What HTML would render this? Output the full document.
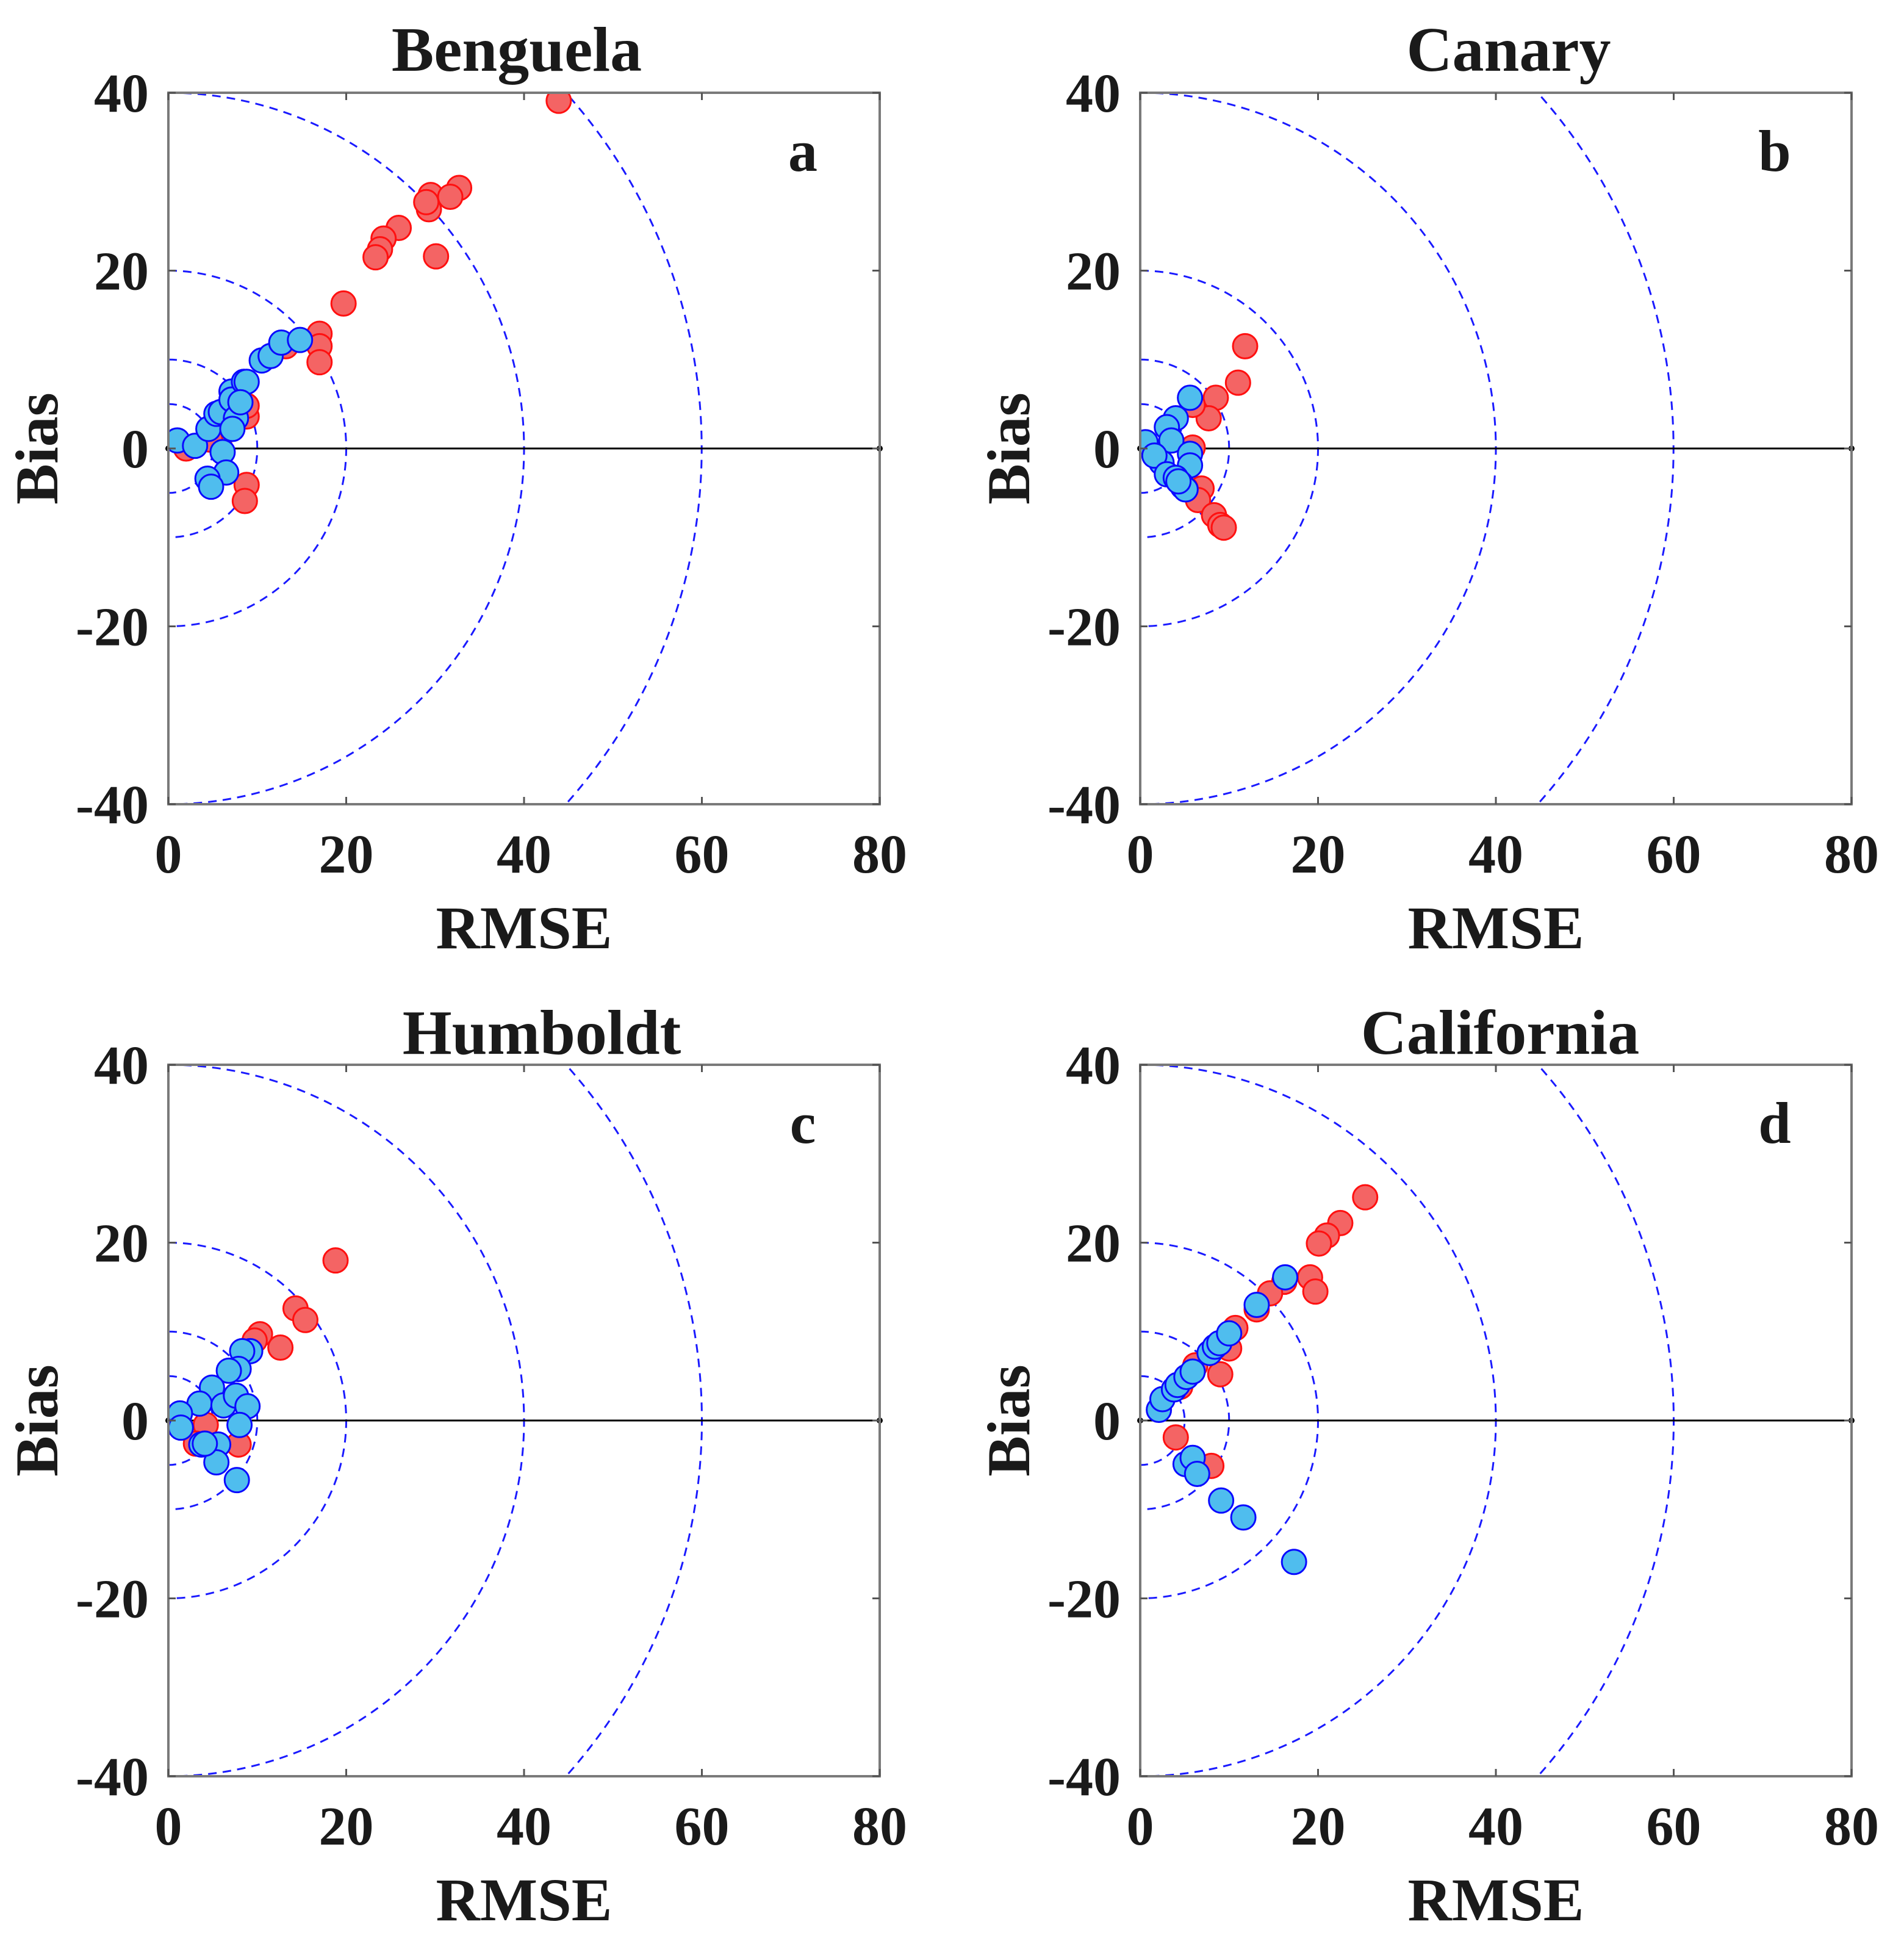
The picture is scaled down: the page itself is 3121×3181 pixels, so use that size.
<!DOCTYPE html>
<html><head><meta charset="utf-8">
<style>
html,body{margin:0;padding:0;background:#fff;}
svg{display:block;}
text{font-family:"Liberation Serif",serif;font-weight:bold;fill:#1a1a1a;}
</style></head>
<body>
<svg id="chart" width="3121" height="3181" viewBox="0 0 3121 3181" xmlns="http://www.w3.org/2000/svg"></svg>
<script>
const panelNames = ["Benguela","Canary","Humboldt","California"];
const panelLetters = ["a","b","c","d"];
const xTicks = [0,20,40,60,80];
const yTicks = [40,20,0,-20,-40];
const arcRadii = [5,10,20,40,60];

const bengRedX = [43.9,29.5,29.3,29,32.7,31.7,30.1,25.9,24.2,23.8,23.3,19.7,17,17,17,13.2,8.8,8.8,8.8,8.6,2,5.7,4.7];
const bengRedY = [39.1,28.5,26.9,27.7,29.3,28.3,21.6,24.8,23.6,22.4,21.5,16.3,12.9,11.5,9.7,11.5,3.6,4.8,-4.1,-5.9,0,0.6,1];
const bengBlueX = [1,3,4.5,5.4,5.9,7.1,7.1,7.6,7.2,8.5,8.8,8.1,10.5,11.5,12.7,14.8,6.1,6.5,4.4,4.8];
const bengBlueY = [0.9,0.3,2.2,3.9,4.1,6.4,5.5,3.4,2.2,7.5,7.5,5.2,9.9,10.4,11.9,12.2,-0.4,-2.7,-3.4,-4.3];

const canRedX = [11.8,11,8.5,7.7,5.9,5.9,6.9,6.5,8.3,9,9.4,5.1];
const canRedY = [11.5,7.4,5.7,3.4,4.9,0.1,-4.5,-5.8,-7.5,-8.6,-8.9,-4.5];
const canBlueX = [5.6,4,3,0.6,3.5,5.6,2.4,1.6,5.6,3,4,4.6,4.8,5.1,4.3];
const canBlueY = [5.7,3.4,2.4,0.7,0.9,-0.6,-1.6,-0.8,-1.9,-2.9,-3.3,-4,-4.3,-4.6,-3.7];

const humRedX = [18.8,14.3,15.4,10.3,9.7,12.6,4.2,7.9,3.1];
const humRedY = [18,12.6,11.3,9.7,9,8.2,-0.5,-2.7,-2.6];
const humBlueX = [9.2,8.3,7.9,6.8,4.9,3.5,1.3,1.4,6.2,7.6,8.9,8,3.7,5.6,5.4,7.7,4.1];
const humBlueY = [7.8,7.8,5.8,5.6,3.7,1.9,0.8,-0.8,1.7,2.8,1.6,-0.5,-2.7,-2.7,-4.7,-6.7,-2.6];

const calRedX = [25.3,22.5,21,20.1,19.1,19.7,16.2,14.6,13.1,10.7,10,9,6.2,4.5,4,8];
const calRedY = [25.1,22.2,20.8,19.9,16.1,14.5,15.6,14.3,12.5,10.4,8.1,5.2,6.2,3.8,-1.9,-5.1];
const calBlueX = [2.1,2.5,3.8,4.2,5.2,5.9,7.8,8.4,8.9,10,13.1,16.3,5.1,5.9,6.4,9.1,11.6,17.3];
const calBlueY = [1.2,2.4,3.5,4,4.9,5.5,7.6,8.3,8.7,9.8,13,16.1,-4.9,-4.2,-6,-9,-10.9,-15.9];

const series = [
  [bengRedX,bengRedY,bengBlueX,bengBlueY],
  [canRedX,canRedY,canBlueX,canBlueY],
  [humRedX,humRedY,humBlueX,humBlueY],
  [calRedX,calRedY,calBlueX,calBlueY]
];

const NS = "http://www.w3.org/2000/svg";
const svg = document.getElementById("chart");
const layout = [
  {x0:276,y0:152,title:[847,82]},
  {x0:1869,y0:152,title:[2473,82]},
  {x0:276,y0:1745,title:[888,1693]},
  {x0:1869,y0:1745,title:[2459,1693]}
];
const W = 1166, H = 1166;

function mk(tag, attrs, parent){
  const e = document.createElementNS(NS, tag);
  for (const k in attrs) e.setAttribute(k, attrs[k]);
  parent.appendChild(e);
  return e;
}

layout.forEach((L, p) => {
  const sx = v => L.x0 + v / 80 * W;
  const sy = v => L.y0 + (40 - v) / 80 * H;
  const g = mk("g", {}, svg);
  
  

  const clipId = "clip" + p;
  const cp = mk("clipPath", {id: clipId}, g);
  mk("rect", {x: L.x0, y: L.y0, width: W, height: H}, cp);

  const arcG = mk("g", {"clip-path": "url(#" + clipId + ")"}, g);
  
  
  arcRadii.forEach(r => {
    const rx = r / 80 * W, ry = r / 80 * H;
    const a = mk("path", {
      d: `M ${sx(0)} ${sy(r)} A ${rx} ${ry} 0 0 1 ${sx(0)} ${sy(-r)}`,
      fill: "none", stroke: "#1a1aff", "stroke-width": 3, "stroke-dasharray": "14 10"
    }, arcG);
    
    
  });

  const zl = mk("line", {x1: sx(0), y1: sy(0), x2: sx(80), y2: sy(0), stroke: "#000", "stroke-width": 3}, g);
  
  
  mk("circle", {cx: sx(80), cy: sy(0), r: 5, fill: "#000"}, g);
  mk("circle", {cx: sx(0), cy: sy(0), r: 5, fill: "#000"}, g);

  const [rx_, ry_, bx_, by_] = series[p];
  const ptG = mk("g", {"clip-path": "url(#" + clipId + ")"}, g);
  rx_.forEach((v, i) => {
    const c = mk("circle", {cx: sx(v), cy: sy(ry_[i]), r: 20, fill: "#f46464", stroke: "#ff1010", "stroke-width": 3}, ptG);
    
    
  });
  bx_.forEach((v, i) => {
    const c = mk("circle", {cx: sx(v), cy: sy(by_[i]), r: 20, fill: "#4fbdee", stroke: "#0a0aff", "stroke-width": 3}, ptG);
    
    
  });

  const fr = mk("rect", {x: L.x0, y: L.y0, width: W, height: H, fill: "none", stroke: "#7a7a7a", "stroke-width": 4}, g);
  
  

  xTicks.forEach(t => {
    mk("line", {x1: sx(t), y1: L.y0 + H, x2: sx(t), y2: L.y0 + H - 12, stroke: "#555", "stroke-width": 3}, g);
    mk("line", {x1: sx(t), y1: L.y0, x2: sx(t), y2: L.y0 + 12, stroke: "#555", "stroke-width": 3}, g);
    const tx = mk("text", {x: sx(t), y: L.y0 + H + 112, "text-anchor": "middle", "font-size": 90}, g);
    tx.textContent = t;
    
    
  });
  yTicks.forEach(t => {
    mk("line", {x1: L.x0, y1: sy(t), x2: L.x0 + 12, y2: sy(t), stroke: "#555", "stroke-width": 3}, g);
    mk("line", {x1: L.x0 + W, y1: sy(t), x2: L.x0 + W - 12, y2: sy(t), stroke: "#555", "stroke-width": 3}, g);
    const ty = mk("text", {x: L.x0 - 32, y: sy(t) + 31, "text-anchor": "end", "font-size": 90}, g);
    ty.textContent = t;
    
    
  });

  const tt = mk("text", {x: L.title[0], y: L.title[1] + 34, "text-anchor": "middle", "font-size": 104}, g);
  tt.textContent = panelNames[p];
  
  

  const lt = mk("text", {x: L.x0 + 1040, y: L.y0 + 128, "text-anchor": "middle", "font-size": 96}, g);
  lt.textContent = panelLetters[p];
  
  

  const xl = mk("text", {x: sx(40), y: L.y0 + H + 236, "text-anchor": "middle", "font-size": 100}, g);
  xl.textContent = "RMSE";
  
  

  const yl = mk("text", {x: 0, y: 0, "text-anchor": "middle", "font-size": 100,
    transform: `translate(${L.x0 - 182},${sy(0)}) rotate(-90)`}, g);
  yl.textContent = "Bias";
  
  
});
</script>
</body></html>
